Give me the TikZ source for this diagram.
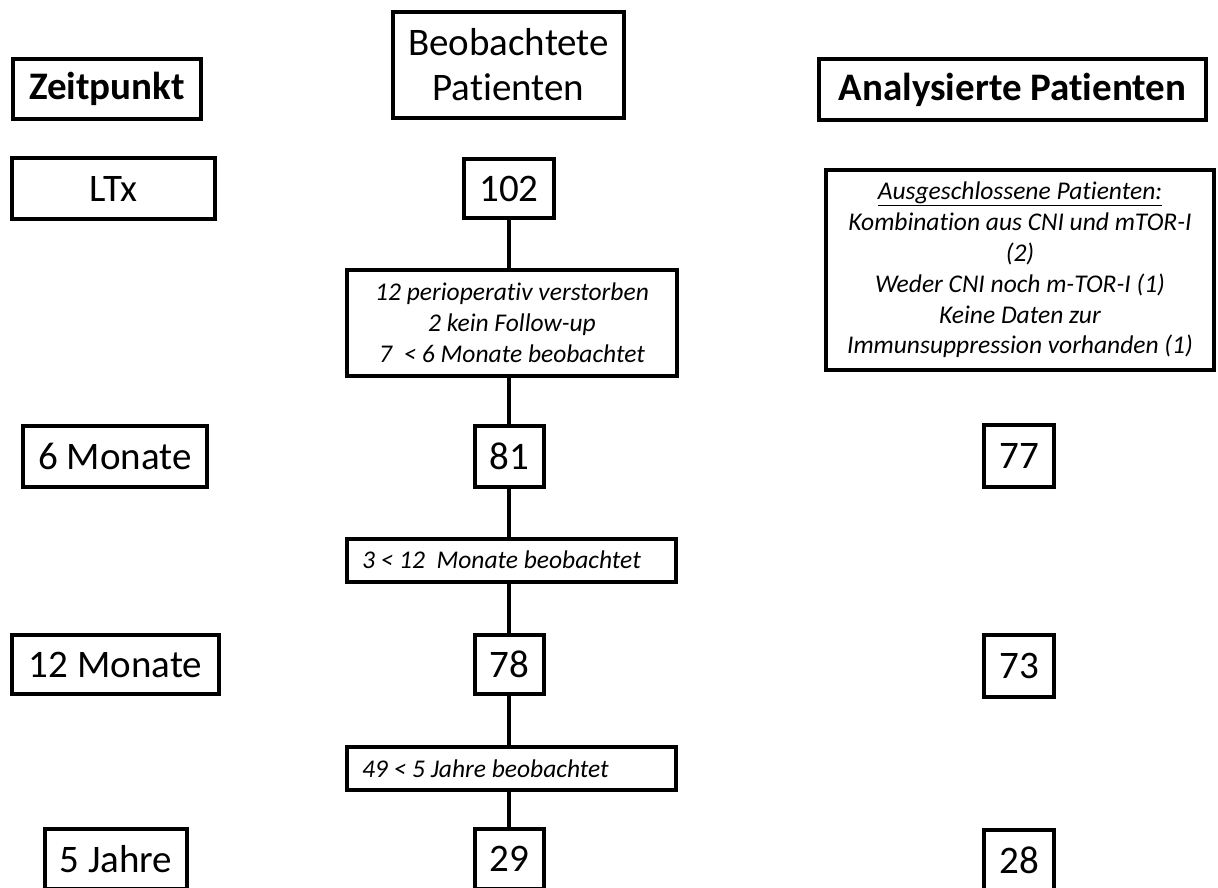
\documentclass[tikz,border=0pt]{standalone}
\usepackage{fontspec}
\setmainfont{Carlito}[Ligatures=NoCommon]
\begin{document}
\begin{tikzpicture}[x=1pt,y=-1pt,
  box/.style={draw,line width=4pt,inner sep=0pt,align=center,fill=white},
  big/.style={font=\fontsize{39}{45}\selectfont},
  bigb/.style={font=\fontsize{39}{45}\selectfont\bfseries},
  note/.style={font=\fontsize{25.5}{30.8}\selectfont\itshape},
  leftnote/.style={box,note,minimum width=329pt,minimum height=43pt},
  link/.style={line width=4pt}]
\useasboundingbox (0,0) rectangle (1218,888);
\clip (0,0) rectangle (1218,888);
% header row
\node[box,bigb,minimum width=188pt,minimum height=60pt] (zeit) at (107,89) {Zeitpunkt};
\node[box,big,minimum width=231pt,minimum height=106pt] (beob) at (508.5,65) {Beobachtete\\Patienten};
\node[box,bigb,minimum width=387pt,minimum height=61pt] (anal) at (1012.5,89.5) {Analysierte Patienten};
% LTx row
\node[box,big,minimum width=203pt,minimum height=61pt] (ltx) at (113.5,188.5) {LTx};
\node[box,big,minimum width=90pt,minimum height=59pt] (n102) at (509,188.5) {102};
\node[box,note,minimum width=388pt,minimum height=200pt] (ausg) at (1020,270)
  {\underline{Ausgeschlossene Patienten:}\\Kombination aus CNI und mTOR-I\\(2)\\Weder CNI noch m-TOR-I (1)\\Keine Daten zur\\Immunsuppression vorhanden (1)};
\node[box,note,minimum width=330pt,minimum height=106pt] (peri) at (512,322.5)
  {12 perioperativ verstorben\\2 kein Follow-up\\7~ < 6 Monate beobachtet};
% 6 months
\node[box,big,minimum width=184pt,minimum height=61pt] (m6) at (115,456.5) {6 Monate};
\node[box,big,minimum width=69pt,minimum height=61pt] (n81) at (509,456.5) {81};
\node[box,big,minimum width=70pt,minimum height=62pt] (n77) at (1019,456) {77};
\node[leftnote] (d12) at (511.5,560) {\hbox to 299pt{3 < 12~ Monate beobachtet\hfil}};
% 12 months
\node[box,big,minimum width=207pt,minimum height=59pt] (m12) at (115.5,664.5) {12 Monate};
\node[box,big,minimum width=69pt,minimum height=59pt] (n78) at (509,664.5) {78};
\node[box,big,minimum width=70pt,minimum height=62pt] (n73) at (1019,666) {73};
\node[leftnote] (d5) at (511.5,768.5) {\hbox to 299pt{49 < 5 Jahre beobachtet\hfil}};
% 5 years
\node[box,big,minimum width=142pt,minimum height=60pt] (j5) at (116,859) {5 Jahre};
\node[box,big,minimum width=69pt,minimum height=60pt] (n29) at (509,859) {29};
\node[box,big,minimum width=70pt,minimum height=60pt] (n28) at (1019,860) {28};
% connectors
\draw[link] (n102.south) -- (n102.south |- peri.north);
\draw[link] (n81.north) -- (n81.north |- peri.south);
\draw[link] (n81.south) -- (n81.south |- d12.north);
\draw[link] (n78.north) -- (n78.north |- d12.south);
\draw[link] (n78.south) -- (n78.south |- d5.north);
\draw[link] (n29.north) -- (n29.north |- d5.south);
\end{tikzpicture}
\end{document}
